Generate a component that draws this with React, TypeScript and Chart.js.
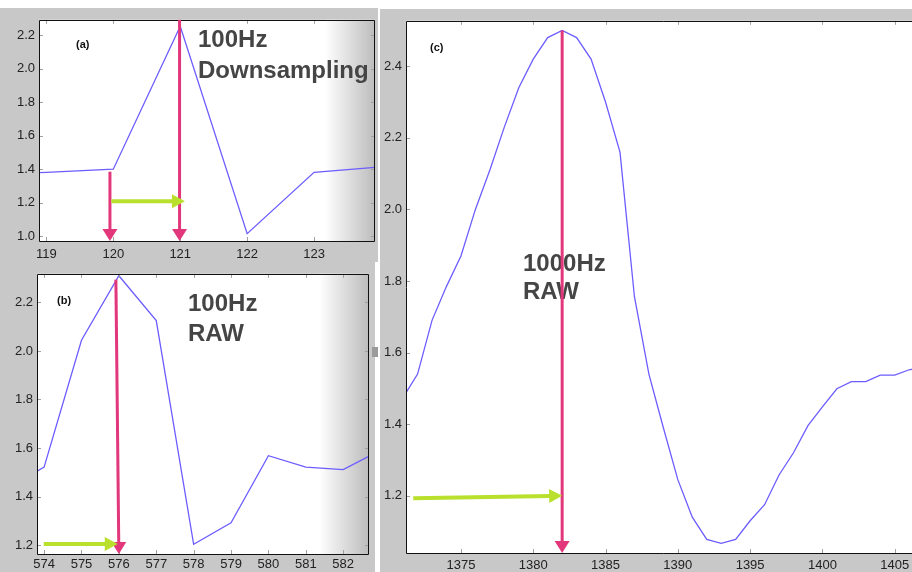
import React, { useEffect, useRef } from 'react';
import { Chart, registerables } from 'chart.js';
Chart.register(...registerables);

// ---- Panel (a): 100Hz downsampling ----
const aSamples = [118, 119, 120, 121, 122, 123, 124];
const aValues = [1.37, 1.381, 1.4, 2.253, 1.015, 1.381, 1.413];
const aXTicks = [119, 120, 121, 122, 123];
const aYTicks = [1.0, 1.2, 1.4, 1.6, 1.8, 2.0, 2.2];

// ---- Panel (b): 100Hz raw ----
const bSamples = [573, 574, 575, 576, 577, 578, 579, 580, 581, 582, 583];
const bValues = [1.43, 1.521, 2.044, 2.31, 2.125, 1.203, 1.292, 1.568, 1.521, 1.511, 1.59];
const bXTicks = [574, 575, 576, 577, 578, 579, 580, 581, 582];
const bYTicks = [1.2, 1.4, 1.6, 1.8, 2.0, 2.2];

// ---- Panel (c): 1000Hz raw ----
const cSamples = [
  1371, 1372, 1373, 1374, 1375, 1376, 1377, 1378, 1379, 1380,
  1381, 1382, 1383, 1384, 1385, 1386, 1387, 1388, 1389, 1390,
  1391, 1392, 1393, 1394, 1395, 1396, 1397, 1398, 1399, 1400,
  1401, 1402, 1403, 1404, 1405, 1406, 1407, 1408,
];
const cValues = [
  1.475, 1.54, 1.69, 1.785, 1.87, 2.0, 2.11, 2.23, 2.34, 2.42,
  2.48, 2.5, 2.48, 2.42, 2.3, 2.16, 1.756, 1.54, 1.39, 1.245,
  1.14, 1.078, 1.067, 1.078, 1.13, 1.175, 1.258, 1.32, 1.396, 1.448,
  1.499, 1.519, 1.519, 1.537, 1.537, 1.552, 1.56, 1.565,
];
const cXTicks = [1375, 1380, 1385, 1390, 1395, 1400, 1405];
const cYTicks = [1.2, 1.4, 1.6, 1.8, 2.0, 2.2, 2.4];

const FONT = '"Liberation Sans", Arial, Helvetica, sans-serif';
const MAGENTA = '#e2377b';
const GREEN = '#b9e02c';
const LINE = '#6c5dff';
const PANEL_GRAY = '#c8c8c8';

type Arrow = { x1: number; y1: number; x2: number; y2: number; color: string; lw: number; hl: number; hw: number };
type Txt = { t: string; dx: number; dy: number; font: string; color: string; baseline: CanvasTextBaseline };

interface Spec {
  xs: number[]; ys: number[]; xTicks: number[]; yTicks: number[];
  xMin: number; xMax: number; yMin: number; yMax: number;
  yW: number; xH: number; padTop: number; padRight: number; xPad: number;
  fade: number; noRight: boolean; texts: Txt[]; arrows: Arrow[];
}

function drawArrow(ctx: CanvasRenderingContext2D, x1: number, y1: number, x2: number, y2: number, color: string, lw: number, hl: number, hw: number) {
  const dx = x2 - x1, dy = y2 - y1;
  const len = Math.hypot(dx, dy) || 1;
  const ux = dx / len, uy = dy / len;
  const bx = x2 - ux * hl, by = y2 - uy * hl;
  ctx.strokeStyle = color;
  ctx.lineWidth = lw;
  ctx.lineCap = 'butt';
  ctx.beginPath();
  ctx.moveTo(x1, y1);
  ctx.lineTo(bx + ux, by + uy);
  ctx.stroke();
  ctx.fillStyle = color;
  ctx.beginPath();
  ctx.moveTo(x2, y2);
  ctx.lineTo(bx - uy * hw / 2, by + ux * hw / 2);
  ctx.lineTo(bx + uy * hw / 2, by - ux * hw / 2);
  ctx.closePath();
  ctx.fill();
}

function makePlugin(p: Spec) {
  return {
    id: 'panelDeco',
    beforeDatasetsDraw(chart: any) {
      const { ctx, chartArea: ca } = chart;
      ctx.save();
      ctx.fillStyle = '#ffffff';
      ctx.fillRect(ca.left, ca.top, ca.width, ca.height);
      if (p.fade > 0) {
        const g = ctx.createLinearGradient(ca.right - p.fade, 0, ca.right, 0);
        g.addColorStop(0, 'rgba(255,255,255,1)');
        g.addColorStop(1, '#bcbcbc');
        ctx.fillStyle = g;
        ctx.fillRect(ca.right - p.fade, ca.top, p.fade, ca.height);
      }
      ctx.restore();
    },
    afterDatasetsDraw(chart: any) {
      const { ctx, chartArea: ca, scales } = chart;
      const xs = scales.x, ys = scales.y;
      ctx.save();
      // inward tick marks
      ctx.strokeStyle = '#a0a0a0';
      ctx.lineWidth = 1;
      ctx.beginPath();
      p.xTicks.forEach((v) => {
        const px = Math.round(xs.getPixelForValue(v)) + 0.5;
        ctx.moveTo(px, ca.bottom); ctx.lineTo(px, ca.bottom - 4);
        ctx.moveTo(px, ca.top); ctx.lineTo(px, ca.top + 4);
      });
      p.yTicks.forEach((v) => {
        const py = Math.round(ys.getPixelForValue(v)) + 0.5;
        ctx.moveTo(ca.left, py); ctx.lineTo(ca.left + 4, py);
        if (!p.noRight) { ctx.moveTo(ca.right, py); ctx.lineTo(ca.right - 4, py); }
      });
      ctx.stroke();
      // frame
      ctx.strokeStyle = '#111';
      ctx.lineWidth = 1;
      ctx.beginPath();
      const L = Math.round(ca.left) + 0.5, T = Math.round(ca.top) + 0.5;
      const R = Math.round(ca.right) - 0.5, B = Math.round(ca.bottom) + 0.5;
      ctx.moveTo(R + (p.noRight ? 2 : 0), T);
      ctx.lineTo(L, T);
      ctx.lineTo(L, B);
      ctx.lineTo(R + (p.noRight ? 2 : 0), B);
      if (!p.noRight) { ctx.lineTo(R, T); }
      ctx.stroke();
      // texts
      p.texts.forEach((t) => {
        ctx.font = t.font;
        ctx.fillStyle = t.color;
        ctx.textBaseline = t.baseline;
        ctx.textAlign = 'left';
        ctx.fillText(t.t, ca.left + t.dx, ca.top + t.dy);
      });
      // arrows
      p.arrows.forEach((a) => {
        drawArrow(ctx,
          xs.getPixelForValue(a.x1), ys.getPixelForValue(a.y1),
          xs.getPixelForValue(a.x2), ys.getPixelForValue(a.y2),
          a.color, a.lw, a.hl, a.hw);
      });
      ctx.restore();
    },
  };
}

function buildChart(canvas: HTMLCanvasElement, p: Spec) {
  const tickFont = { family: FONT, size: 13 };
  return new Chart(canvas, {
    type: 'line',
    data: {
      datasets: [{
        data: p.xs.map((x, i) => ({ x, y: p.ys[i] })),
        borderColor: LINE,
        borderWidth: 1.3,
        pointRadius: 0,
        tension: 0,
        fill: false,
      }],
    },
    options: {
      animation: false,
      responsive: true,
      maintainAspectRatio: false,
      events: [],
      layout: { padding: { top: p.padTop, right: p.padRight, left: 0, bottom: 0 } },
      plugins: { legend: { display: false }, tooltip: { enabled: false } },
      scales: {
        x: {
          type: 'linear',
          min: p.xMin, max: p.xMax,
          afterBuildTicks: (s: any) => { s.ticks = p.xTicks.map((v) => ({ value: v })); },
          afterFit: (s: any) => { s.height = p.xH; },
          grid: { display: false, drawTicks: false },
          border: { display: false },
          ticks: { padding: p.xPad, font: tickFont, color: '#222', autoSkip: false, maxRotation: 0, callback: (v: any) => String(v) },
        },
        y: {
          type: 'linear',
          min: p.yMin, max: p.yMax,
          afterBuildTicks: (s: any) => { s.ticks = p.yTicks.map((v) => ({ value: v })); },
          afterFit: (s: any) => { s.width = p.yW; },
          grid: { display: false, drawTicks: false },
          border: { display: false },
          ticks: { padding: 4, font: tickFont, color: '#222', autoSkip: false, callback: (v: any) => Number(v).toFixed(1) },
        },
      },
    } as any,
    plugins: [makePlugin(p) as any],
  });
}

const BIG = `bold 24px ${FONT}`;
const SMALL = `bold 11px ${FONT}`;
const TXT = '#454545';

const specA: Spec = {
  xs: aSamples, ys: aValues, xTicks: aXTicks, yTicks: aYTicks,
  xMin: 118.89, xMax: 123.91, yMin: 0.971, yMax: 2.292,
  yW: 39, xH: 21, padTop: 7, padRight: 3, xPad: 6, fade: 50, noRight: false,
  texts: [
    { t: '(a)', dx: 37, dy: 25, font: SMALL, color: '#111', baseline: 'middle' },
    { t: '100Hz', dx: 159, dy: 27, font: BIG, color: TXT, baseline: 'alphabetic' },
    { t: 'Downsampling', dx: 159, dy: 58, font: BIG, color: TXT, baseline: 'alphabetic' },
  ],
  arrows: [
    { x1: 119.95, y1: 1.385, x2: 119.95, y2: 0.971, color: MAGENTA, lw: 3, hl: 12, hw: 15 },
    { x1: 120.99, y1: 2.292, x2: 120.99, y2: 0.971, color: MAGENTA, lw: 3, hl: 12, hw: 15 },
    { x1: 119.97, y1: 1.208, x2: 121.07, y2: 1.208, color: GREEN, lw: 4, hl: 13, hw: 14 },
  ],
};

const specB: Spec = {
  xs: bSamples, ys: bValues, xTicks: bXTicks, yTicks: bYTicks,
  xMin: 573.81, xMax: 582.69, yMin: 1.163, yMax: 2.318,
  yW: 37, xH: 18, padTop: 8, padRight: 6, xPad: 3, fade: 50, noRight: false,
  texts: [
    { t: '(b)', dx: 20, dy: 27, font: SMALL, color: '#111', baseline: 'middle' },
    { t: '100Hz', dx: 151, dy: 37, font: BIG, color: TXT, baseline: 'alphabetic' },
    { t: 'RAW', dx: 151, dy: 67, font: BIG, color: TXT, baseline: 'alphabetic' },
  ],
  arrows: [
    { x1: 575.92, y1: 2.294, x2: 576.0, y2: 1.163, color: MAGENTA, lw: 3, hl: 12, hw: 15 },
    { x1: 573.99, y1: 1.204, x2: 575.97, y2: 1.204, color: GREEN, lw: 4, hl: 13, hw: 14 },
  ],
};

const specC: Spec = {
  xs: cSamples, ys: cValues, xTicks: cXTicks, yTicks: cYTicks,
  xMin: 1371.2, xMax: 1406.75, yMin: 1.04, yMax: 2.527,
  yW: 26, xH: 19, padTop: 4, padRight: 0, xPad: 5, fade: 0, noRight: true,
  texts: [
    { t: '(c)', dx: 24, dy: 27, font: SMALL, color: '#111', baseline: 'middle' },
    { t: '1000Hz', dx: 117, dy: 250, font: BIG, color: TXT, baseline: 'alphabetic' },
    { t: 'RAW', dx: 117, dy: 278, font: BIG, color: TXT, baseline: 'alphabetic' },
  ],
  arrows: [
    { x1: 1382.0, y1: 2.5, x2: 1382.0, y2: 1.04, color: MAGENTA, lw: 3, hl: 12, hw: 15 },
    { x1: 1371.7, y1: 1.193, x2: 1382.0, y2: 1.2, color: GREEN, lw: 4, hl: 13, hw: 14 },
  ],
};

function Panel({ spec, box }: { spec: Spec; box: { left: number; top: number; width: number; height: number } }) {
  const ref = useRef<HTMLCanvasElement | null>(null);
  useEffect(() => {
    if (!ref.current) return;
    const chart = buildChart(ref.current, spec);
    return () => chart.destroy();
  }, [spec]);
  return (
    <div style={{ position: 'absolute', left: box.left, top: box.top, width: box.width, height: box.height, background: PANEL_GRAY }}>
      <canvas ref={ref} style={{ display: 'block', width: '100%', height: '100%' }} />
    </div>
  );
}

export default function App() {
  return (
    <div style={{ position: 'fixed', left: 0, top: 0, width: 912, height: 572, background: '#fff', overflow: 'hidden' }}>
      <Panel spec={specA} box={{ left: 0, top: 8, width: 378, height: 254 }} />
      <Panel spec={specB} box={{ left: 0, top: 262, width: 375, height: 310 }} />
      <Panel spec={specC} box={{ left: 380, top: 9, width: 540, height: 563 }} />
      <div style={{ position: 'absolute', left: 372, top: 347, width: 6, height: 10, background: '#9a9a9a' }} />
    </div>
  );
}
